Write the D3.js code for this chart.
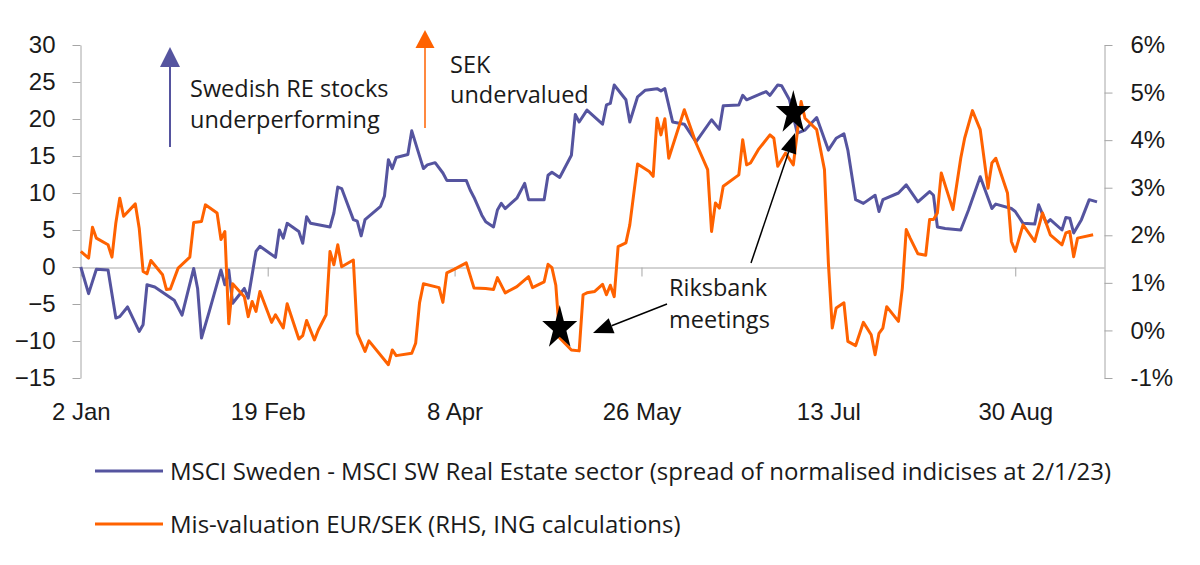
<!DOCTYPE html>
<html>
<head>
<meta charset="utf-8">
<script src="https://cdn.jsdelivr.net/npm/d3@7"></script>
<style>
  body { margin: 0; background: #fff; }
  svg { font-family: "Open Sans", sans-serif; }
  .axis text { font-size: 24px; fill: #1a1a1a; }
  .axis path, .axis line { stroke: #a6a6a6; stroke-width: 1; }
</style>
</head>
<body>
<svg class="chart"></svg>
<script>
// Spread of normalised MSCI indices (LHS)
var msciDates = [
  "2023-01-02","2023-01-04","2023-01-06","2023-01-09","2023-01-11","2023-01-12","2023-01-14","2023-01-17",
  "2023-01-18","2023-01-19","2023-01-21","2023-01-26","2023-01-28","2023-01-31","2023-02-01","2023-02-02",
  "2023-02-04","2023-02-07","2023-02-08","2023-02-09","2023-02-10","2023-02-13","2023-02-14","2023-02-16",
  "2023-02-17","2023-02-21","2023-02-22","2023-02-23","2023-02-24","2023-02-27","2023-02-28","2023-03-01",
  "2023-03-02","2023-03-07","2023-03-08","2023-03-09","2023-03-10","2023-03-13","2023-03-14","2023-03-15",
  "2023-03-16","2023-03-20","2023-03-21","2023-03-22","2023-03-23","2023-03-24","2023-03-27","2023-03-28",
  "2023-03-31","2023-04-01","2023-04-03","2023-04-05","2023-04-06","2023-04-11","2023-04-12","2023-04-13",
  "2023-04-15","2023-04-16","2023-04-18","2023-04-19","2023-04-20","2023-04-21","2023-04-24","2023-04-26",
  "2023-04-27","2023-05-01","2023-05-02","2023-05-03","2023-05-05","2023-05-08","2023-05-09","2023-05-10",
  "2023-05-12","2023-05-16","2023-05-17","2023-05-18","2023-05-19","2023-05-22","2023-05-23","2023-05-25",
  "2023-05-27","2023-05-30","2023-05-31","2023-06-01","2023-06-03","2023-06-06","2023-06-09","2023-06-13",
  "2023-06-15","2023-06-16","2023-06-20","2023-06-21","2023-06-22","2023-06-27","2023-06-28","2023-06-30",
  "2023-07-01","2023-07-03","2023-07-05","2023-07-07","2023-07-10","2023-07-13","2023-07-15","2023-07-17",
  "2023-07-18","2023-07-20","2023-07-22","2023-07-25","2023-07-26","2023-07-27","2023-07-31","2023-08-02",
  "2023-08-05","2023-08-08","2023-08-09","2023-08-10","2023-08-12","2023-08-16","2023-08-18","2023-08-21",
  "2023-08-24","2023-08-25","2023-08-29","2023-08-30","2023-09-01","2023-09-04","2023-09-05","2023-09-07",
  "2023-09-08","2023-09-11","2023-09-12","2023-09-13","2023-09-14","2023-09-16","2023-09-18","2023-09-20"
];
var msciValues = [
  0.0, -3.6, -0.3, -0.4, -6.9, -6.7, -5.4, -8.7,
  -7.8, -2.4, -2.7, -4.5, -6.5, -0.2, -2.9, -9.6,
  -6.0, -0.4, -2.4, -0.4, -4.9, -2.9, -4.2, 2.1,
  2.8, 1.3, 5.0, 3.9, 5.9, 4.8, 3.2, 6.8,
  5.9, 5.4, 7.3, 10.8, 10.6, 6.4, 6.2, 4.2,
  6.4, 8.2, 9.6, 14.5, 13.3, 14.8, 15.2, 18.4,
  13.3, 13.8, 14.1, 12.7, 11.7, 11.7, 10.4, 9.4,
  7.0, 6.1, 5.4, 7.7, 8.6, 7.9, 9.3, 11.3,
  9.1, 9.1, 12.4, 12.8, 12.1, 15.1, 20.6, 19.6,
  21.2, 19.3, 21.9, 22.1, 24.6, 22.6, 19.6, 23.0,
  23.9, 24.1, 23.8, 24.1, 19.6, 19.3, 16.9, 19.9,
  18.6, 21.8, 21.9, 23.2, 22.6, 23.7, 23.2, 24.6,
  24.5, 22.6, 18.1, 18.5, 20.2, 15.8, 17.4, 18.0,
  15.8, 9.1, 8.6, 9.7, 7.5, 9.1, 10.0, 11.1,
  8.8, 10.2, 9.7, 5.4, 5.2, 5.0, 7.7, 12.2,
  7.9, 8.5, 7.9, 7.5, 5.9, 5.8, 8.4, 5.9,
  6.4, 5.0, 6.7, 6.6, 4.6, 6.4, 9.1, 8.8
];

// EUR/SEK mis-valuation, % (RHS)
var sekDates = [
  "2023-01-02","2023-01-04","2023-01-05","2023-01-06","2023-01-09","2023-01-10","2023-01-11","2023-01-12",
  "2023-01-13","2023-01-16","2023-01-17","2023-01-18","2023-01-19","2023-01-20","2023-01-23","2023-01-24",
  "2023-01-25","2023-01-27","2023-01-30","2023-01-31","2023-02-02","2023-02-03","2023-02-06","2023-02-07",
  "2023-02-08","2023-02-09","2023-02-10","2023-02-13","2023-02-14","2023-02-15","2023-02-16","2023-02-17",
  "2023-02-20","2023-02-21","2023-02-23","2023-02-24","2023-02-27","2023-02-28","2023-03-01","2023-03-03",
  "2023-03-04","2023-03-06","2023-03-07","2023-03-08","2023-03-09","2023-03-10","2023-03-13","2023-03-14",
  "2023-03-16","2023-03-17","2023-03-22","2023-03-23","2023-03-24","2023-03-28","2023-03-29","2023-03-30",
  "2023-03-31","2023-04-04","2023-04-05","2023-04-06","2023-04-08","2023-04-11","2023-04-13","2023-04-16",
  "2023-04-18","2023-04-19","2023-04-21","2023-04-24","2023-04-27","2023-04-28","2023-05-01","2023-05-02",
  "2023-05-03","2023-05-04","2023-05-05","2023-05-08","2023-05-10","2023-05-11","2023-05-12","2023-05-14",
  "2023-05-16","2023-05-17","2023-05-18","2023-05-19","2023-05-20","2023-05-22","2023-05-23","2023-05-25",
  "2023-05-28","2023-05-29","2023-05-30","2023-05-31","2023-06-01","2023-06-02","2023-06-06","2023-06-09",
  "2023-06-12","2023-06-13","2023-06-14","2023-06-15","2023-06-16","2023-06-20","2023-06-21","2023-06-22",
  "2023-06-23","2023-06-25","2023-06-28","2023-06-29","2023-06-30","2023-07-02","2023-07-04","2023-07-06",
  "2023-07-07","2023-07-10","2023-07-12","2023-07-13","2023-07-14","2023-07-15","2023-07-17","2023-07-18",
  "2023-07-20","2023-07-22","2023-07-24","2023-07-25","2023-07-26","2023-07-27","2023-07-28","2023-07-31",
  "2023-08-01","2023-08-02","2023-08-03","2023-08-05","2023-08-07","2023-08-08","2023-08-09","2023-08-10",
  "2023-08-11","2023-08-14","2023-08-16","2023-08-17","2023-08-19","2023-08-21","2023-08-23","2023-08-24",
  "2023-08-25","2023-08-28","2023-08-29","2023-08-30","2023-09-01","2023-09-04","2023-09-06","2023-09-08",
  "2023-09-11","2023-09-12","2023-09-13","2023-09-14","2023-09-15","2023-09-19"
];
var sekValues = [
  1.66, 1.52, 2.17, 1.94, 1.80, 1.54, 2.26, 2.78,
  2.40, 2.66, 2.15, 1.24, 1.19, 1.47, 1.17, 0.86,
  0.87, 1.31, 1.54, 2.27, 2.29, 2.64, 2.47, 1.91,
  2.08, 0.14, 0.98, 0.71, 0.29, 0.61, 0.40, 0.82,
  0.17, 0.33, 0.05, 0.56, -0.18, -0.11, 0.21, -0.20,
  0.01, 0.33, 1.66, 1.38, 1.80, 1.34, 1.48, -0.06,
  -0.44, -0.22, -0.72, -0.41, -0.53, -0.48, -0.27, 0.58,
  0.98, 0.90, 0.59, 1.21, 1.29, 1.42, 0.89, 0.88,
  0.86, 1.11, 0.79, 0.92, 1.13, 0.90, 1.02, 1.39,
  1.32, 0.95, -0.16, -0.41, -0.43, 0.75, 0.79, 0.82,
  0.97, 0.75, 0.95, 0.71, 1.76, 1.84, 2.22, 3.50,
  3.34, 3.24, 4.46, 4.11, 4.45, 3.62, 4.64, 3.94,
  3.38, 2.08, 2.68, 2.57, 3.03, 3.27, 4.01, 3.48,
  3.52, 3.80, 4.11, 4.04, 3.45, 3.73, 3.48, 4.81,
  4.46, 4.22, 3.38, 1.42, 0.05, 0.47, 0.58, -0.23,
  -0.32, 0.17, -0.09, -0.51, -0.06, 0.05, 0.50, 0.19,
  0.89, 2.12, 1.94, 1.61, 1.58, 2.33, 2.33, 2.47,
  3.31, 2.54, 3.62, 4.04, 4.62, 4.22, 2.99, 3.52,
  3.62, 2.89, 1.87, 1.66, 2.22, 1.87, 2.47, 2.01,
  1.80, 2.05, 2.08, 1.55, 1.94, 2.01
];

var xTickDates = ["2023-01-02", "2023-02-19", "2023-04-08", "2023-05-26", "2023-07-13", "2023-08-30"];
var leftTicks = [-15, -10, -5, 0, 5, 10, 15, 20, 25, 30];
var rightTicks = [-1, 0, 1, 2, 3, 4, 5, 6];

// Riksbank meetings, marked on the SEK line
var meetingDates = ["2023-05-05", "2023-07-04"];
var meetingLevels = [0.05, 4.57];

var seriesNames = [
  "MSCI Sweden - MSCI SW Real Estate sector (spread of normalised indicises at 2/1/23)",
  "Mis-valuation EUR/SEK (RHS, ING calculations)"
];
var purple = "#55549f", orange = "#ff6200";

window.onload = function () {
  var width = 1200, height = 565;
  var parse = d3.timeParse("%Y-%m-%d");

  var svg = d3.select("svg.chart").attr("width", width).attr("height", height);

  var x = d3.scaleTime()
    .domain([parse("2023-01-02"), new Date(2023, 8, 21, 19)])
    .range([80.8, 1104]);
  var yL = d3.scaleLinear().domain([-15, 30]).range([378, 45]);
  var yR = d3.scaleLinear().domain([-1, 6]).range([378, 45]);

  // axes
  svg.append("g").attr("class", "axis")
    .attr("transform", "translate(80.5,0)")
    .call(d3.axisLeft(yL).tickValues(leftTicks).tickSize(8).tickSizeOuter(0).tickPadding(17));

  svg.append("g").attr("class", "axis")
    .attr("transform", "translate(1104.5,0)")
    .call(d3.axisRight(yR).tickValues(rightTicks).tickSize(8).tickSizeOuter(0).tickPadding(18)
      .tickFormat(function (d) { return d + "%"; }));

  var tickDates = xTickDates.map(parse);
  svg.append("g").attr("class", "axis")
    .attr("transform", "translate(0," + (Math.round(yL(0)) + 0.5) + ")")
    .call(d3.axisBottom(x).tickValues(tickDates).tickSize(9).tickSizeOuter(0).tickFormat(""));

  var xLabels = svg.append("g").attr("class", "axis")
    .attr("transform", "translate(0,403)")
    .call(d3.axisBottom(x).tickValues(tickDates).tickSize(0).tickPadding(0)
      .tickFormat(d3.timeFormat("%-d %b")));
  xLabels.select(".domain").remove();

  // series
  var msci = msciDates.map(function (d, i) { return { date: parse(d), value: msciValues[i] }; });
  var sek = sekDates.map(function (d, i) { return { date: parse(d), value: sekValues[i] }; });

  svg.append("path").datum(msci)
    .attr("fill", "none").attr("stroke", purple).attr("stroke-width", 3).attr("stroke-linejoin", "round")
    .attr("d", d3.line().x(function (d) { return x(d.date); }).y(function (d) { return yL(d.value); }));

  svg.append("path").datum(sek)
    .attr("fill", "none").attr("stroke", orange).attr("stroke-width", 3).attr("stroke-linejoin", "round")
    .attr("d", d3.line().x(function (d) { return x(d.date); }).y(function (d) { return yR(d.value); }));

  // arrow helper: shaft plus filled head
  function arrow(x1, y1, x2, y2, color, w, headLen, headW) {
    var a = Math.atan2(y2 - y1, x2 - x1);
    var bx = x2 - headLen * Math.cos(a), by = y2 - headLen * Math.sin(a);
    svg.append("line").attr("x1", x1).attr("y1", y1).attr("x2", bx).attr("y2", by)
      .attr("stroke", color).attr("stroke-width", w);
    var px = -Math.sin(a) * headW / 2, py = Math.cos(a) * headW / 2;
    svg.append("path")
      .attr("d", "M" + x2 + "," + y2 + "L" + (bx + px) + "," + (by + py) + "L" + (bx - px) + "," + (by - py) + "Z")
      .attr("fill", color);
  }

  // direction annotations
  arrow(170, 147, 170, 47, purple, 2, 20, 20);
  arrow(425, 128, 425, 30, orange, 1.5, 18, 19);

  var note = svg.append("g").attr("font-size", 23.5).attr("fill", "#1a1a1a");
  note.append("text").attr("x", 190).attr("y", 97).text("Swedish RE stocks");
  note.append("text").attr("x", 190).attr("y", 128).text("underperforming");
  note.append("text").attr("x", 450).attr("y", 73).text("SEK");
  note.append("text").attr("x", 450).attr("y", 103).text("undervalued");
  note.append("text").attr("x", 669).attr("y", 296).text("Riksbank");
  note.append("text").attr("x", 669).attr("y", 328).text("meetings");

  arrow(667, 304, 593, 333, "#000", 1.5, 20, 16);
  arrow(751, 263, 795, 133, "#000", 1.5, 20, 16);

  // meeting stars
  var star = d3.symbol().type(d3.symbolStar).size(380);
  svg.selectAll(".star").data(meetingDates).enter().append("path")
    .attr("class", "star")
    .attr("d", star)
    .attr("fill", "#000")
    .attr("transform", function (d, i) {
      return "translate(" + x(parse(d)) + "," + yR(meetingLevels[i]) + ") scale(1,1.25)";
    });

  // legend
  var legend = svg.append("g").attr("font-size", 24).attr("fill", "#1a1a1a");
  var rows = [{ y: 471, color: purple }, { y: 524, color: orange }];
  rows.forEach(function (r, i) {
    legend.append("line").attr("x1", 95).attr("x2", 163).attr("y1", r.y).attr("y2", r.y)
      .attr("stroke", r.color).attr("stroke-width", 3);
    legend.append("text").attr("x", 170).attr("y", r.y + 8.5).text(seriesNames[i]);
  });
};
</script>
</body>
</html>
